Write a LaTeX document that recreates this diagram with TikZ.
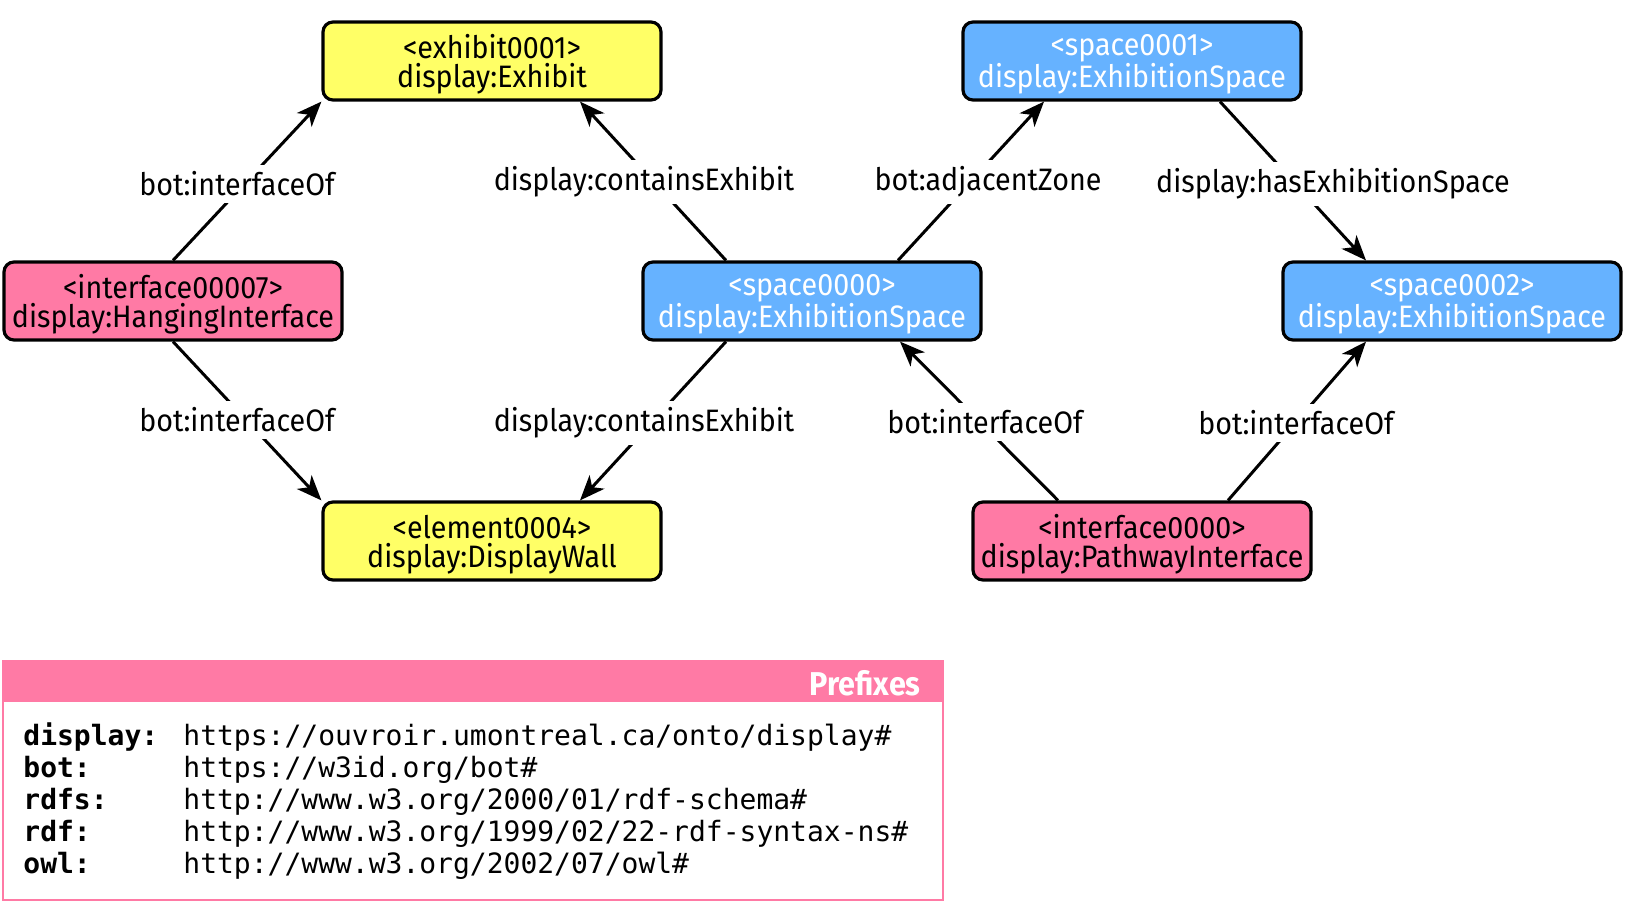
\documentclass[tikz,border=0pt]{standalone}
\usepackage{fontspec}
\setmainfont{Fira Sans}[FakeStretch=0.925]
\newfontfamily\monofont{DejaVu Sans Mono}
\usetikzlibrary{arrows.meta}
\definecolor{cyel}{RGB}{255,255,102}
\definecolor{cblu}{RGB}{102,178,255}
\definecolor{cpnk}{RGB}{255,122,165}
\newcommand\enttext[2]{#1\\\raisebox{0pt}[\height][0pt]{#2}}
\begin{document}
\begin{tikzpicture}[x=0.5pt,y=-0.5pt,
 ent/.style={draw=black, line width=1.6pt, rounded corners=5pt, minimum width=169pt, minimum height=39pt, align=center, font=\fontsize{15.5}{14.5}\selectfont, inner sep=0pt},
 yel/.style={ent, fill=cyel},
 blu/.style={ent, fill=cblu, text=white},
 pnk/.style={ent, fill=cpnk},
 rel/.style={line width=1.5pt, -{Stealth[length=12.5pt,width=10pt,inset=3.5pt]}},
 lbl/.style={fill=white, font=\fontsize{15.5}{15.5}\selectfont, inner sep=3.5pt},
 pfx/.style={anchor=base west, font=\monofont\bfseries\fontsize{14}{14}\selectfont, inner sep=0pt},
 uri/.style={anchor=base west, font=\monofont\fontsize{14}{14}\selectfont, inner sep=0pt}
]
\useasboundingbox (0,0) rectangle (1626,904);

\node[yel] (ex) at (492,61) {\enttext{<exhibit0001>}{display:Exhibit}};
\node[blu] (s1) at (1132,61) {\enttext{<space0001>}{display:ExhibitionSpace}};
\node[pnk] (i7) at (173,301) {\enttext{<interface00007>}{display:HangingInterface}};
\node[blu] (s0) at (812,301) {\enttext{<space0000>}{display:ExhibitionSpace}};
\node[blu] (s2) at (1452,301) {\enttext{<space0002>}{display:ExhibitionSpace}};
\node[yel] (el) at (492,541) {\enttext{<element0004>}{display:DisplayWall}};
\node[pnk] (if0) at (1142,541) {\enttext{<interface0000>}{display:PathwayInterface}};

\draw[rel] (i7.north) -- (ex.south west);
\draw[rel] ([xshift=-43pt]s0.north) -- ([xshift=44pt]ex.south);
\draw[rel] ([xshift=43pt]s0.north) -- ([xshift=-44pt]s1.south);
\draw[rel] ([xshift=44pt]s1.south) -- ([xshift=-43pt]s2.north);
\draw[rel] (i7.south) -- (el.north west);
\draw[rel] ([xshift=-43pt]s0.south) -- ([xshift=44pt]el.north);
\draw[rel] ([xshift=-42pt]if0.north) -- ([xshift=44pt]s0.south);
\draw[rel] ([xshift=43pt]if0.north) -- ([xshift=-43pt]s2.south);

\node[lbl] (l1) at (237,184) {bot:interfaceOf};
\node[lbl] (l2) at (644,182) {display:containsExhibit};
\node[lbl] (l3) at (988,182) {bot:adjacentZone};
\node[lbl] (l4) at (1333,184) {display:hasExhibitionSpace};
\node[lbl] (l5) at (237,420) {bot:interfaceOf};
\node[lbl] (l6) at (644,423) {display:containsExhibit};
\node[lbl] (l7) at (985,422) {bot:interfaceOf};
\node[lbl] (l8) at (1296,423) {bot:interfaceOf};

\fill[cpnk] (3,661) rectangle (943,702);
\draw[cpnk, line width=1pt] (3,661) rectangle (943,900);
\node[anchor=east, text=white, font=\bfseries\fontsize{16.5}{16.5}\selectfont, inner sep=0pt] (ph) at (921,683) {Prefixes};

\node[pfx] (p1) at (23,745) {display:};
\node[pfx] (p2) at (23,777) {bot:};
\node[pfx] (p3) at (23,809) {rdfs:};
\node[pfx] (p4) at (23,841) {rdf:};
\node[pfx] (p5) at (23,873) {owl:};
\node[uri] (u1) at (183,745) {https://ouvroir.umontreal.ca/onto/display\#};
\node[uri] (u2) at (183,777) {https://w3id.org/bot\#};
\node[uri] (u3) at (183,809) {http://www.w3.org/2000/01/rdf-schema\#};
\node[uri] (u4) at (183,841) {http://www.w3.org/1999/02/22-rdf-syntax-ns\#};
\node[uri] (u5) at (183,873) {http://www.w3.org/2002/07/owl\#};
\end{tikzpicture}
\end{document}
